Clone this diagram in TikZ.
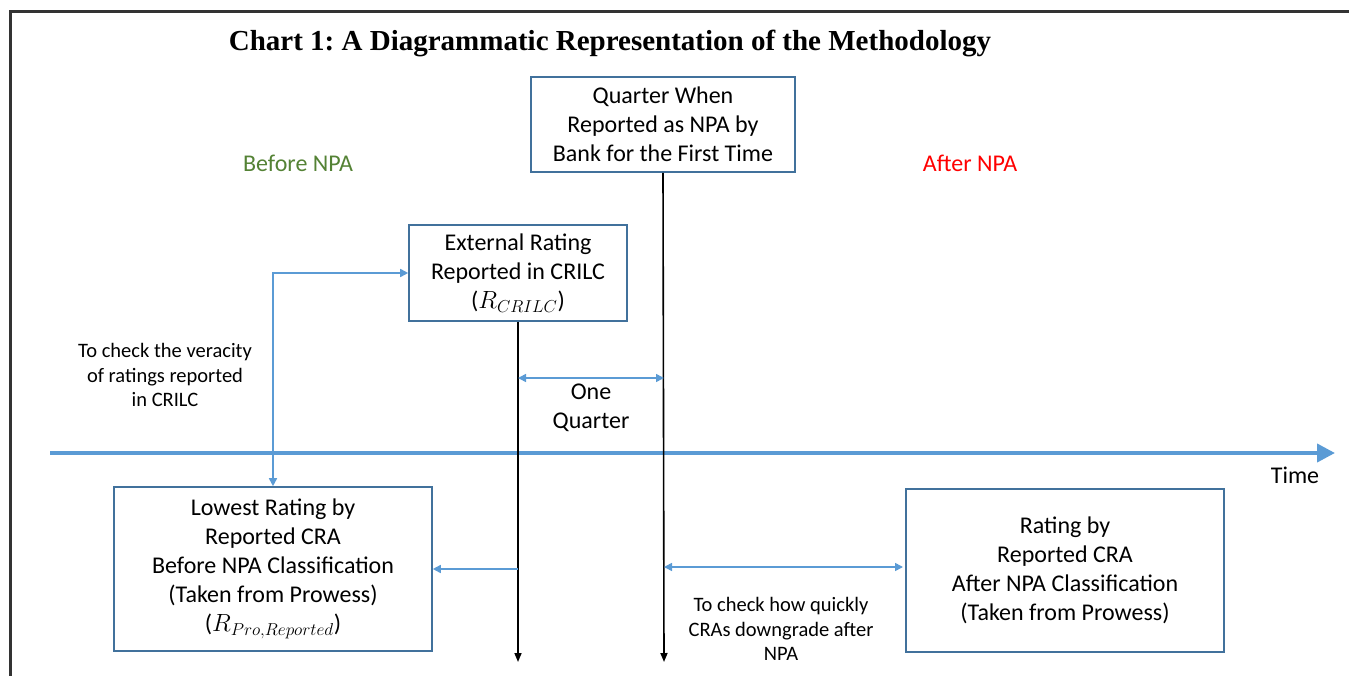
\documentclass[tikz,border=0pt]{standalone}
\usepackage{fontspec}
\setmainfont{Carlito}
\newfontfamily\titlefont{Liberation Serif}
\usetikzlibrary{arrows.meta}
\definecolor{boxblue}{HTML}{41719C}
\definecolor{arrblue}{HTML}{5B9BD5}
\definecolor{frame}{HTML}{333333}
\definecolor{bgreen}{HTML}{548235}
\begin{document}
\frenchspacing
\begin{tikzpicture}[x=1pt,y=-1pt,
  box/.style={draw=boxblue,line width=1.6pt,align=center,inner sep=0pt,
    font=\fontsize{24}{29}\selectfont},
  small/.style={align=center,font=\fontsize{20.5}{24.5}\selectfont},
  big/.style={align=center,font=\fontsize{24}{29}\selectfont},
  bline/.style={draw=black,line width=1.6pt,-{Triangle[length=9pt,width=7pt]}},
  barr/.style={draw=arrblue,line width=1.6pt,-{Triangle[length=8pt,width=8pt]}},
  bdarr/.style={draw=arrblue,line width=1.6pt,{Triangle[length=8pt,width=8pt]}-{Triangle[length=8pt,width=8pt]}}]
\useasboundingbox (0,0) rectangle (1349,676);
% frame
\draw[frame,line width=3pt] (10,676) -- (10,12) -- (1349,12);
% title
\node[font=\titlefont\bfseries\fontsize{29}{34}\selectfont] (title) at (610,43) {Chart 1: A Diagrammatic Representation of the Methodology};
% boxes
\node[box,minimum width=264pt,minimum height=95pt] (q) at (663,124.5) {Quarter When\\Reported as NPA by\\Bank for the First Time};
\node[box,minimum width=218pt,minimum height=96pt] (ext) at (518,273) {External Rating\\Reported in CRILC\\($R_{CRILC}$)};
\node[box,minimum width=318pt,minimum height=164pt] (low) at (273,569) {Lowest Rating by\\Reported CRA\\Before NPA Classification\\(Taken from Prowess)\\($R_{Pro,Reported}$)};
\node[box,minimum width=318pt,minimum height=163pt] (aft) at (1065,570.5) {Rating by\\Reported CRA\\After NPA Classification\\(Taken from Prowess)};
% labels
\node[big,text=bgreen] (bn) at (298,163) {Before NPA};
\node[big,text=red] (an) at (970,163) {After NPA};
\node[big] (oq) at (591,408) {One\\Quarter};
\node[big] (time) at (1295,475) {Time};
\node[small] (ver) at (165,375) {To check the veracity\\of ratings reported\\in CRILC};
\node[small] (quick) at (781,629) {To check how quickly\\CRAs downgrade after\\NPA};
% coordinates
\coordinate (tA) at (50,453);
\coordinate (tB) at (1335,453);
\coordinate (qend) at (664,662);
\coordinate (eend) at (518,662);
\coordinate (qa) at (518,378);
\coordinate (qb) at (664,378);
\coordinate (la) at (518,569);
\coordinate (ra) at (664,567);
\coordinate (rb) at (903,567);
% time axis
\draw[draw=arrblue,line width=4pt,-{Triangle[length=18pt,width=18pt]}] (tA) -- (tB);
% vertical lines
\draw[bline] (q.south) -- (qend);
\draw[bline] (ext.south) -- (eend);
% blue connectors
\draw[bdarr] (qa) -- (qb);
\draw[barr] (la) -- (low.east);
\draw[bdarr] (ra) -- (rb);
\draw[bdarr] (low.north) |- (ext.west);
\end{tikzpicture}
\end{document}
